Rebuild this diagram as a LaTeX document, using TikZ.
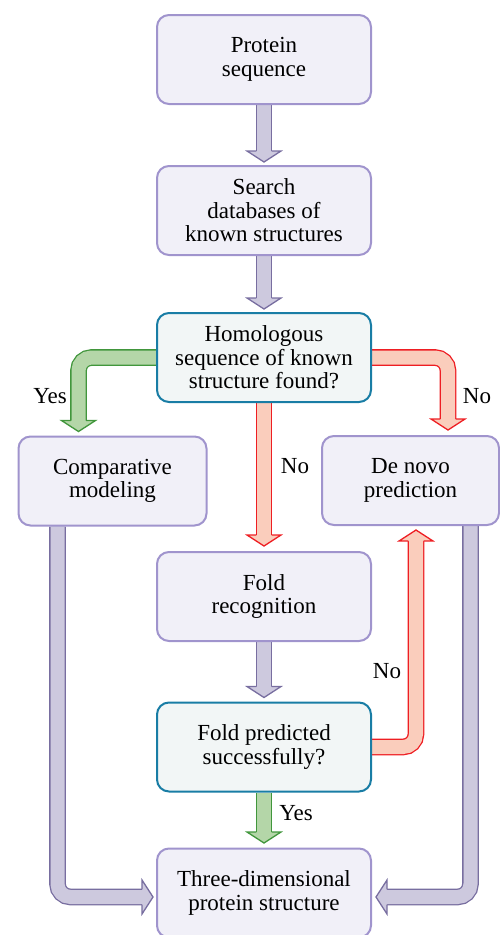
\documentclass[tikz,border=0pt]{standalone}
\usepackage{fontspec}
\setmainfont{Liberation Serif}
\usetikzlibrary{calc}
\definecolor{boxline}{RGB}{160,148,205}
\definecolor{boxfill}{RGB}{241,240,248}
\definecolor{askline}{RGB}{25,125,165}
\definecolor{askfill}{RGB}{242,246,246}
\definecolor{grayline}{RGB}{120,110,160}
\definecolor{grayfill}{RGB}{205,201,222}
\definecolor{greenline}{RGB}{65,150,60}
\definecolor{greenfill}{RGB}{180,214,168}
\definecolor{redline}{RGB}{238,30,35}
\definecolor{redfill}{RGB}{250,205,188}

\pgfdeclarelayer{back}
\pgfsetlayers{back,main}

\tikzset{
    stepbox/.style={draw=boxline, fill=boxfill, line width=2pt, rounded corners=12pt,
        minimum width=214pt, minimum height=89pt, align=center, inner sep=2pt,
        font=\rmfamily\fontsize{23}{23.5}\selectfont},
    askbox/.style={stepbox, draw=askline, fill=askfill},
    lab/.style={font=\rmfamily\fontsize{23}{23.5}\selectfont, inner sep=0pt},
    shaft/.style={line width=1.3pt, double distance=14pt, rounded corners=13pt},
    grayshaft/.style={shaft, draw=grayline, double=grayfill},
    greenshaft/.style={shaft, draw=greenline, double=greenfill},
    redshaft/.style={shaft, draw=redline, double=redfill},
    grayhead/.style={draw=grayline, fill=grayfill},
    greenhead/.style={draw=greenline, fill=greenfill},
    redhead/.style={draw=redline, fill=redfill}
}

% head of a fat arrow: style, tip, direction
\newcommand{\fathead}[3]{%
    \filldraw[#1, line width=1.3pt, shift={(#2)}, rotate=#3]
        (-11pt,7.6pt) -- (-11pt,17pt) -- (0pt,0pt) -- (-11pt,-17pt) -- (-11pt,-7.6pt);}

\begin{document}
\begin{tikzpicture}[x=1pt, y=1pt]
        \useasboundingbox (0,0) rectangle (500,-935);

        % boxes
        \node[stepbox] (prot) at (264,-59.5) {Protein\\sequence};
        \node[stepbox] (search) at (264,-210.5) {Search\\databases of\\known structures};
        \node[askbox] (homol) at (264,-357.5) {Homologous\\sequence of known\\structure found?};
        \node[stepbox, minimum width=188pt] (compar) at (112.5,-481) {Comparative\\modeling};
        \node[stepbox, minimum width=177pt] (denovo) at (410.5,-480.5) {De novo\\prediction};
        \node[stepbox] (foldrec) at (264,-596.5) {Fold\\recognition};
        \node[askbox] (foldpred) at (264,-747) {Fold predicted\\successfully?};
        \node[stepbox] (struct) at (264,-893) {Three-dimensional\\protein structure};

        % labels
        \node[lab] (yes1) at (50,-396) {Yes};
        \node[lab] (no1) at (477,-396) {No};
        \node[lab] (no2) at (295,-466) {No};
        \node[lab] (no3) at (387,-671) {No};
        \node[lab] (yes2) at (296,-813) {Yes};

        % tips
        \coordinate (t1) at ($(search.north)+(0,3)$);
        \coordinate (t2) at ($(homol.north)+(0,3)$);
        \coordinate (t3) at ($(compar.north)+(-34,4)$);
        \coordinate (t4) at ($(denovo.north)+(37.5,5)$);
        \coordinate (t5) at ($(foldrec.north)+(0,5)$);
        \coordinate (t6) at ($(foldpred.north)+(0,4)$);
        \coordinate (t7) at ($(denovo.south)+(5.5,-4)$);
        \coordinate (t8) at ($(struct.north)+(0,4.5)$);
        \coordinate (t9) at ($(struct.west)+(-3,-4)$);
        \coordinate (t10) at ($(struct.east)+(4,-4)$);

        \begin{pgfonlayer}{back}
        \draw[grayshaft] (prot.south) -- ($(t1)+(0,10)$);
        \fathead{grayhead}{t1}{-90}
        \draw[grayshaft] (search.south) -- ($(t2)+(0,10)$);
        \fathead{grayhead}{t2}{-90}
        \draw[greenshaft] (homol.west) -| ($(t3)+(0,10)$);
        \fathead{greenhead}{t3}{-90}
        \draw[redshaft] (homol.east) -| ($(t4)+(0,10)$);
        \fathead{redhead}{t4}{-90}
        \draw[redshaft] (homol.south) -- ($(t5)+(0,10)$);
        \fathead{redhead}{t5}{-90}
        \draw[grayshaft] (foldrec.south) -- ($(t6)+(0,10)$);
        \fathead{grayhead}{t6}{-90}
        \draw[redshaft] (foldpred.east) -| ($(t7)+(0,-10)$);
        \fathead{redhead}{t7}{90}
        \draw[greenshaft] (foldpred.south) -- ($(t8)+(0,10)$);
        \fathead{greenhead}{t8}{-90}
        \draw[grayshaft] ($(compar.south)+(-55,0)$) |- ($(t9)+(-10,0)$);
        \fathead{grayhead}{t9}{0}
        \draw[grayshaft] ($(denovo.south)+(60,0)$) |- ($(t10)+(10,0)$);
        \fathead{grayhead}{t10}{180}
        \end{pgfonlayer}
\end{tikzpicture}
\end{document}
